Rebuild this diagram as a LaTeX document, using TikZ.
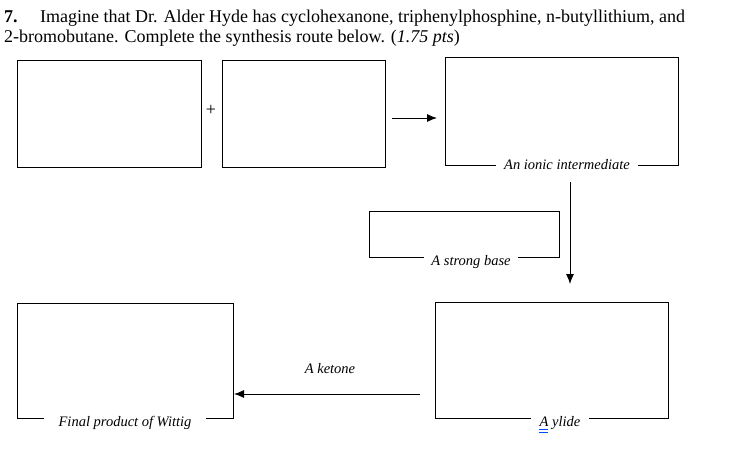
\documentclass[tikz,border=0pt]{standalone}
\usepackage{fontspec}
\setmainfont{Liberation Serif}
\usetikzlibrary{arrows.meta}
\begin{document}
\begin{tikzpicture}[x=1pt,y=-1pt,
  boxstyle/.style={draw=black,line width=0.9pt,inner sep=0pt,anchor=north west},
  lbl/.style={fill=white,font=\fontsize{14.5}{16}\selectfont\itshape,inner xsep=#1,inner ysep=1pt},
  lbl/.default=8pt,
  titlefont/.style={anchor=base west,inner sep=0pt,font=\fontsize{18}{20}\selectfont},
  conn/.style={line width=0.9pt,-{Latex[length=10pt,width=8pt]}}]
\useasboundingbox (0,0) rectangle (752,473);
% title
\node[titlefont,font=\fontsize{18}{20}\selectfont\bfseries] (num) at (4,23) {7.};
\node[titlefont] (l1) at (40,23) {Imagine that Dr. Alder Hyde has cyclohexanone, triphenylphosphine, n-butyllithium, and};
\node[titlefont] (l2) at (4,43) {2-bromobutane. Complete the synthesis route below. (\textit{1.75 pts})};
% boxes
\node[boxstyle,minimum width=184pt,minimum height=107pt] (b1) at (17,60) {};
\node[boxstyle,minimum width=163pt,minimum height=107pt] (b2) at (222,60) {};
\node[font=\fontsize{18}{18}\selectfont,inner sep=0pt] (plus) at (211,110) {+};
\node[boxstyle,minimum width=233pt,minimum height=108pt] (b3) at (445,57) {};
\node[lbl=8pt] (l3) at (567,165) {An ionic intermediate};
\node[boxstyle,minimum width=190pt,minimum height=46pt] (b4) at (369,211) {};
\node[lbl=7pt] (l4) at (471,262) {A strong base};
\node[boxstyle,minimum width=216pt,minimum height=115pt] (b5) at (17,303) {};
\node[lbl=15pt] (l5) at (125,423) {Final product of Wittig};
\node[boxstyle,minimum width=233pt,minimum height=116pt] (b6) at (435,302) {};
\node[lbl=9pt] (l6) at (560,423) {A ylide};
\node[font=\fontsize{14.5}{16}\selectfont\itshape,inner sep=0pt] (ket) at (330,369) {A ketone};
% spell-check underline
\draw[blue!70!cyan,line width=0.6pt] (539,429.5) -- (548,429.5) (539,432) -- (548,432);
% arrows
\coordinate (a1s) at (392,118);
\coordinate (a1e) at (437,118);
\draw[conn] (a1s) -- (a1e);
\coordinate (a2s) at (570,182);
\coordinate (a2e) at (570,284);
\draw[conn] (a2s) -- (a2e);
\coordinate (a3s) at (420,394);
\coordinate (a3e) at (234,394);
\draw[conn] (a3s) -- (a3e);
\end{tikzpicture}
\end{document}
